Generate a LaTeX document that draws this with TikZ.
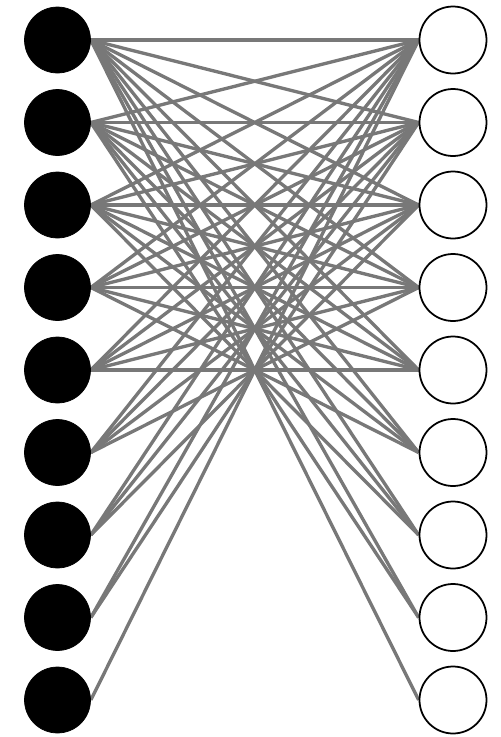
\documentclass[tikz,border=0pt]{standalone}
\usepackage{xcolor}
\usepackage{tikz}
\usetikzlibrary{backgrounds}
\definecolor{linkgray}{HTML}{787878}
\tikzset{
  inunit/.style={circle,draw=black,fill=black,minimum size=13.2mm,inner sep=0pt},
  outunit/.style={circle,draw=black,fill=white,line width=1pt,minimum size=13.4mm,inner sep=0pt},
  link/.style={draw=linkgray,line width=1.9pt}
}

\begin{document}
\begin{tikzpicture}
  % Frame
  \useasboundingbox (0,0) rectangle (10.02,-14.74);
  % Input units (left) and output units (right)
  \foreach \i in {1,...,9} {
    \node[inunit] (in\i) at (1.15,{-0.8-(\i-1)*1.65}) {};
    \node[outunit] (out\i) at (9.06,{-0.8-(\i-1)*1.65}) {};
  }
  % Links: in i to out j whenever i+j <= 10
  \begin{scope}[on background layer]
    \foreach \i in {1,...,9} {
      \pgfmathtruncatemacro\last{10-\i}
      \foreach \j in {1,...,\last}
        \draw[link] (in\i.east) -- (out\j.west);
    }
  \end{scope}
\end{tikzpicture}
\end{document}
